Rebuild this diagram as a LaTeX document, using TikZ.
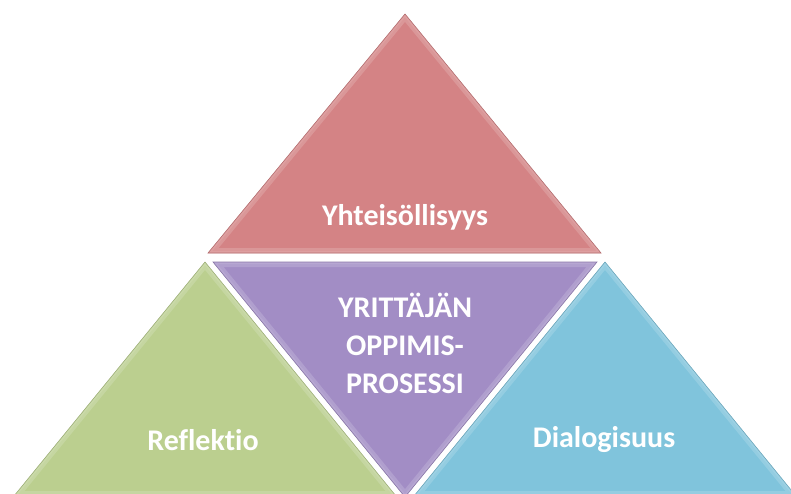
\documentclass[tikz,border=0pt]{standalone}
\usepackage{fontspec}
\setmainfont[Ligatures=NoCommon]{Carlito}
\definecolor{yhtred}{HTML}{D48385}
\definecolor{oppviolet}{HTML}{A28DC5}
\definecolor{refgreen}{HTML}{BBCF8F}
\definecolor{diablue}{HTML}{80C4DC}
% one bevelled triangle: colour, three corners
\newcommand{\facet}[4]{%
  \begin{scope}
    \clip (#2) -- (#3) -- (#4) -- cycle;
    \fill[#1] (#2) -- (#3) -- (#4) -- cycle;
    \draw[#1!60!white, line width=10pt, opacity=0.4] (#2) -- (#3) -- (#4) -- cycle;
    \draw[#1!75!white, line width=4pt, opacity=0.8] (#2) -- (#3) -- (#4) -- cycle;
  \end{scope}
  \draw[#1!85!black, line width=0.6pt] (#2) -- (#3) -- (#4) -- cycle;
}

\begin{document}
\begin{tikzpicture}[x=1pt, y=-1pt,
    tritext/.style={text=white, font=\bfseries\fontsize{30}{38}\selectfont, align=center}]
	\useasboundingbox (0,0) rectangle (791,494);
	% corners
	\coordinate (yA) at (405,14);
	\coordinate (yB) at (208,253);
	\coordinate (yC) at (601,253);
	\coordinate (oA) at (213,262);
	\coordinate (oB) at (597,262);
	\coordinate (oC) at (405,497);
	\coordinate (rA) at (205,262);
	\coordinate (rB) at (14,496);
	\coordinate (rC) at (396,496);
	\coordinate (dA) at (605,262);
	\coordinate (dB) at (414,496);
	\coordinate (dC) at (796,496);
	% triangles
	\facet{yhtred}{yA}{yB}{yC}
	\facet{oppviolet}{oA}{oB}{oC}
	\facet{refgreen}{rA}{rB}{rC}
	\facet{diablue}{dA}{dB}{dC}
	% texts
	\node[tritext] (yht) at (405,217) {Yhteisöllisyys};
	\node[tritext] (opp) at (405,343) {YRITTÄJÄN\\OPPIMIS-\\PROSESSI};
	\node[tritext] (ref) at (203,440) {Reflektio};
	\node[tritext] (dia) at (604,440) {Dialogisuus};
\end{tikzpicture}
\end{document}
